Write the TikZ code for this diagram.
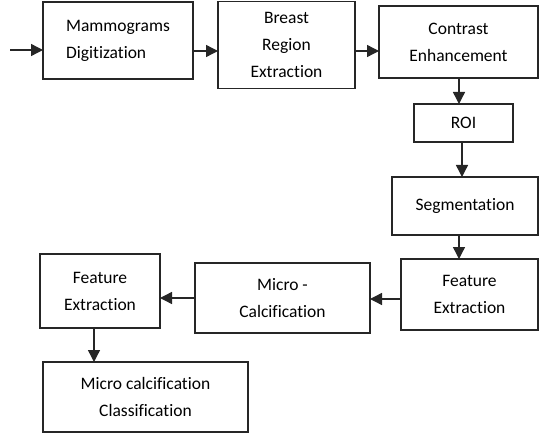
\documentclass[tikz,border=0pt]{standalone}
\usepackage{fontspec}
\setmainfont[Ligatures=NoCommon]{Carlito}
\usetikzlibrary{arrows.meta}
\begin{document}
\begin{tikzpicture}[x=1pt,y=-1pt,
  box/.style={draw=black!85, line width=1.4pt, rectangle, inner sep=0pt, outer sep=0pt,
    align=center, font=\fontsize{17.5}{27}\selectfont},
  arr/.style={draw=black!85, line width=1.4pt, -{Triangle[length=12pt,width=12pt]}}]
\useasboundingbox (0,0) rectangle (539,436);
\node[box, align=left, minimum width=150pt, minimum height=77pt] (b1) at (118,40.5) {Mammograms\\Digitization};
\node[box, minimum width=137pt, minimum height=87pt] (b2) at (286.5,45) {Breast\\Region\\Extraction};
\node[box, minimum width=159pt, minimum height=72pt] (b3) at (458.5,42) {Contrast\\Enhancement};
\node[box, minimum width=99pt, minimum height=38pt] (roi) at (463.5,123) {ROI};
\node[box, minimum width=146pt, minimum height=58pt] (seg) at (465,206) {Segmentation};
\node[box, minimum width=137pt, minimum height=71pt] (fe1) at (469.5,294.5) {Feature\\Extraction};
\node[box, minimum width=175pt, minimum height=70pt] (mc) at (282.5,298) {Micro -\\Calcification};
\node[box, minimum width=120pt, minimum height=74pt] (fe2) at (100,291) {Feature\\Extraction};
\node[box, minimum width=205pt, minimum height=70pt] (cls) at (145.5,397) {Micro calcification\\Classification};
\coordinate (in) at (10,50);
\draw[arr] (in) -- (in -| b1.west);
\draw[arr] (b1.east |- 0,51) -- (b2.west |- 0,51);
\draw[arr] (b2.east |- 0,51) -- (b3.west |- 0,51);
\draw[arr] (b3.south -| 459,0) -- (roi.north -| 459,0);
\draw[arr] (roi.south -| 462,0) -- (seg.north -| 462,0);
\draw[arr] (seg.south -| 459,0) -- (fe1.north -| 459,0);
\draw[arr] (fe1.west |- 0,299) -- (mc.east |- 0,299);
\draw[arr] (mc.west |- 0,298) -- (fe2.east |- 0,298);
\draw[arr] (fe2.south -| 94,0) -- (cls.north -| 94,0);
\end{tikzpicture}
\end{document}
